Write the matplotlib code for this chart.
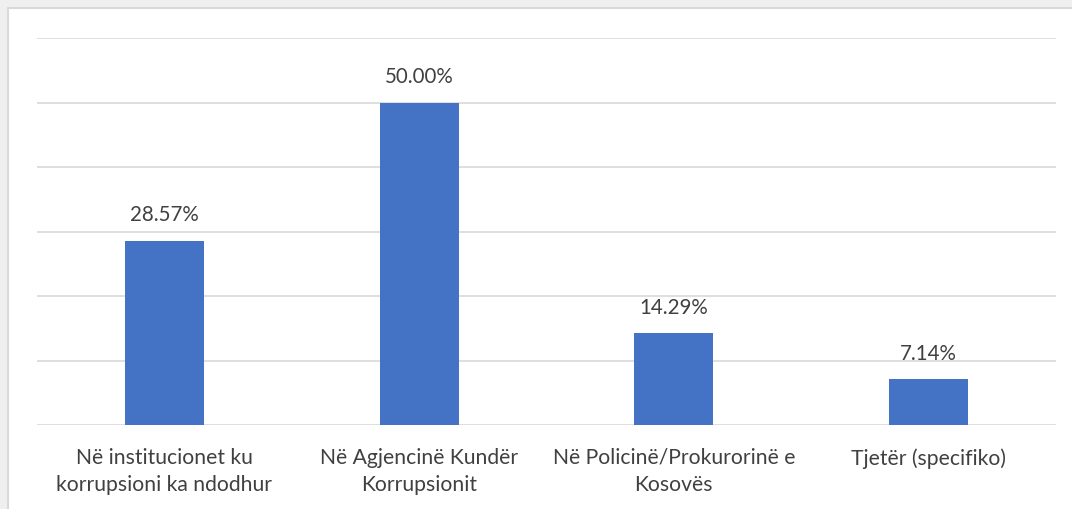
import matplotlib.pyplot as plt
from matplotlib.patches import Rectangle

categories = [
    "Në institucionet ku\nkorrupsioni ka ndodhur",
    "Në Agjencinë Kundër\nKorrupsionit",
    "Në Policinë/Prokurorinë e\nKosovës",
    "Tjetër (specifiko)",
]
values = [28.57, 50.00, 14.29, 7.14]
value_labels = ["28.57%", "50.00%", "14.29%", "7.14%"]

BAR_COLOR = "#4472C4"
TEXT_COLOR = "#404040"
GRID_COLOR = "#D9D9D9"

plt.rcParams['font.family'] = ['Lato', 'DejaVu Sans']

W, H = 1072, 509
fig = plt.figure(figsize=(W / 100, H / 100), dpi=100, facecolor="#EFEFEF")

# white chart box with thin border, running off the right and bottom edges
fig.patches.append(Rectangle((8 / W, -0.05), 1.1, 1.05 - 8 / H, transform=fig.transFigure,
                             facecolor="white", edgecolor=GRID_COLOR, linewidth=1.5, zorder=-10))

ax = fig.add_axes([37 / W, 1 - 425 / H, (1056 - 37) / W, (425 - 38) / H])
ax.set_facecolor("none")
ax.set_zorder(5)

x = range(len(categories))
ax.bar(x, values, width=0.31, color=BAR_COLOR, zorder=3)

for xi, v, lab in zip(x, values, value_labels):
    ax.annotate(lab, (xi, v), xytext=(0, 11), textcoords="offset points",
                ha="center", va="bottom", fontsize=14.8, color=TEXT_COLOR)

ax.set_xlim(-0.5, 3.5)
ax.set_ylim(0, 60)
ax.set_yticks(range(0, 61, 10))
ax.yaxis.grid(True, color=GRID_COLOR, linewidth=1.2, zorder=0)
ax.tick_params(axis="y", left=False, labelleft=False)
ax.tick_params(axis="x", bottom=False, pad=13)
ax.set_xticks(list(x))
ax.set_xticklabels(categories, fontsize=15.2, color=TEXT_COLOR, linespacing=1.42)
for s in ["top", "right", "left", "bottom"]:
    ax.spines[s].set_visible(False)

fig.savefig("out.png", dpi=100, facecolor=fig.get_facecolor())
